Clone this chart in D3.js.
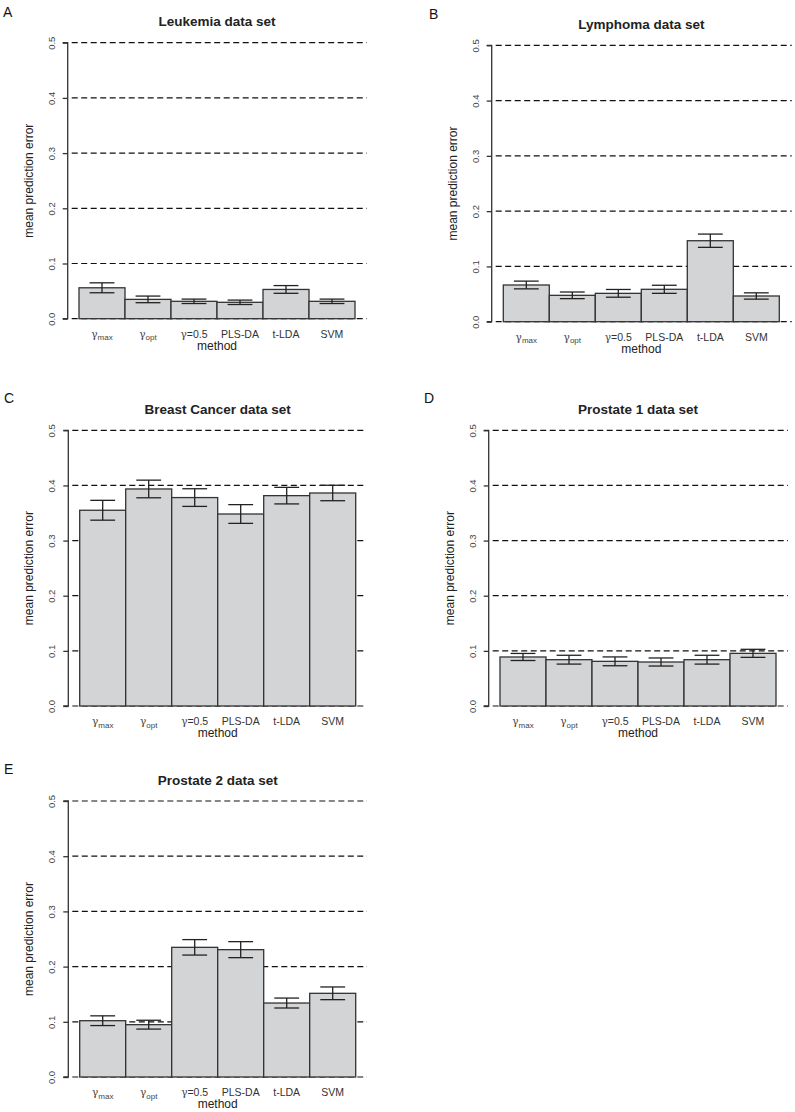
<!DOCTYPE html>
<html>
<head>
<meta charset="utf-8">
<script src="https://cdn.jsdelivr.net/npm/d3@7"></script>
<style>
html,body{margin:0;padding:0;background:#fff;}
svg{display:block;font-family:"Liberation Sans",Arial,sans-serif;}
</style>
</head>
<body>
<svg id="chart" width="795" height="1112"></svg>
<script>
// ---- data ----
const methodBase = ["γ", "γ", "γ", "PLS-DA", "t-LDA", "SVM"];
const methodSub  = ["max", "opt", "", "", "", ""];
const methodRest = ["", "", "=0.5", "", "", ""];
const methods = ["gmax", "gopt", "g05", "PLS-DA", "t-LDA", "SVM"];
const yTicks = [0.0, 0.1, 0.2, 0.3, 0.4, 0.5];
const yTickLabels = ["0.0", "0.1", "0.2", "0.3", "0.4", "0.5"];

const panelLetters = ["A", "B", "C", "D", "E"];
const panelTitles = ["Leukemia data set", "Lymphoma data set", "Breast Cancer data set", "Prostate 1 data set", "Prostate 2 data set"];

const leukemiaMean  = [0.056, 0.035, 0.0315, 0.0297, 0.053, 0.0315];
const leukemiaErr   = [0.009, 0.006, 0.004, 0.004, 0.007, 0.004];
const lymphomaMean  = [0.0664, 0.0477, 0.0513, 0.0586, 0.1465, 0.0465];
const lymphomaErr   = [0.007, 0.006, 0.007, 0.0073, 0.012, 0.0057];
const breastMean    = [0.355, 0.3936, 0.378, 0.3482, 0.3815, 0.3863];
const breastErr     = [0.018, 0.016, 0.016, 0.017, 0.015, 0.014];
const prostate1Mean = [0.0889, 0.084, 0.081, 0.0798, 0.084, 0.0955];
const prostate1Err  = [0.0064, 0.008, 0.008, 0.0073, 0.008, 0.0073];
const prostate2Mean = [0.102, 0.0948, 0.2349, 0.2307, 0.134, 0.1516];
const prostate2Err  = [0.0088, 0.008, 0.014, 0.0145, 0.009, 0.0115];

const panelMeans = [leukemiaMean, lymphomaMean, breastMean, prostate1Mean, prostate2Mean];
const panelErrs  = [leukemiaErr, lymphomaErr, breastErr, prostate1Err, prostate2Err];

// ---- layout (positions only) ----
const layouts = [
  {axisX: 67.7, barL: 79.0, barR: 355.0, top: 42.7, bottom: 318.7, gridR: 366.7, lx: 3, ly: 16.5},
  {axisX: 491.7, barL: 503.3, barR: 779.3, top: 45.3, bottom: 321.7, gridR: 791.7, lx: 429, ly: 18.5},
  {axisX: 68.3, barL: 79.7, barR: 355.7, top: 430.3, bottom: 706.0, gridR: 366.7, lx: 4, ly: 403},
  {axisX: 488.7, barL: 500.0, barR: 776.0, top: 430.3, bottom: 706.0, gridR: 788.0, lx: 424, ly: 403},
  {axisX: 68.3, barL: 79.7, barR: 355.7, top: 801.0, bottom: 1077.0, gridR: 367.0, lx: 4, ly: 774}
];

const svg = d3.select("#chart");
const dark = "#333";

layouts.forEach((L, i) => {
  const g = svg.append("g");
  const x = d3.scaleBand().domain(methods).range([L.barL, L.barR]).padding(0);
  const y = d3.scaleLinear().domain([0, 0.5]).range([L.bottom, L.top]);
  const means = panelMeans[i], errs = panelErrs[i];

  // panel letter
  g.append("text").attr("x", L.lx).attr("y", L.ly)
    .attr("font-size", 14).attr("fill", "#111").text(panelLetters[i]);

  // title
  g.append("text").attr("x", (L.barL + L.barR) / 2).attr("y", L.top - 16.5)
    .attr("text-anchor", "middle").attr("font-size", 13.5).attr("font-weight", "bold")
    .attr("fill", "#222").text(panelTitles[i]);

  // dashed gridlines
  g.selectAll(".grid").data(yTicks).enter().append("line")
    .attr("x1", L.axisX + 4).attr("x2", L.gridR)
    .attr("y1", d => y(d)).attr("y2", d => y(d))
    .attr("stroke", "#111").attr("stroke-width", 1.2).attr("stroke-dasharray", "6,3.5");

  // y axis
  const yAxis = d3.axisLeft(y).tickValues(yTicks).tickSize(5).tickFormat((d, k) => yTickLabels[k]);
  const ga = g.append("g").attr("transform", `translate(${L.axisX},0)`).call(yAxis);
  ga.select(".domain").attr("d", `M-5,${y(0.5)}H0V${y(0)}H-5`).attr("stroke", dark).attr("stroke-width", 1.3);
  ga.selectAll(".tick line").attr("stroke", dark).attr("stroke-width", 1.3);
  ga.selectAll(".tick text")
    .attr("transform", "rotate(-90)")
    .attr("x", 0).attr("y", -13).attr("dy", null)
    .attr("text-anchor", "middle")
    .attr("font-family", "Liberation Sans, Arial, sans-serif")
    .attr("font-size", 9.5).attr("fill", "#444");

  // y label
  g.append("text")
    .attr("transform", `translate(${L.axisX - 35},${(L.top + L.bottom) / 2}) rotate(-90)`)
    .attr("text-anchor", "middle").attr("font-size", 12).attr("fill", "#222")
    .text("mean prediction error");

  // bars
  g.selectAll(".bar").data(means).enter().append("rect")
    .attr("x", (d, k) => x(methods[k]))
    .attr("width", x.bandwidth())
    .attr("y", d => y(d))
    .attr("height", d => y(0) - y(d))
    .attr("fill", "#d3d4d6").attr("stroke", dark).attr("stroke-width", 1.3);

  // error bars
  const cap = x.bandwidth() * 0.27;
  const eb = g.selectAll(".eb").data(means).enter().append("g");
  eb.append("line")
    .attr("x1", (d, k) => x(methods[k]) + x.bandwidth() / 2)
    .attr("x2", (d, k) => x(methods[k]) + x.bandwidth() / 2)
    .attr("y1", (d, k) => y(d + errs[k])).attr("y2", (d, k) => y(d - errs[k]));
  eb.append("line")
    .attr("x1", (d, k) => x(methods[k]) + x.bandwidth() / 2 - cap)
    .attr("x2", (d, k) => x(methods[k]) + x.bandwidth() / 2 + cap)
    .attr("y1", (d, k) => y(d + errs[k])).attr("y2", (d, k) => y(d + errs[k]));
  eb.append("line")
    .attr("x1", (d, k) => x(methods[k]) + x.bandwidth() / 2 - cap)
    .attr("x2", (d, k) => x(methods[k]) + x.bandwidth() / 2 + cap)
    .attr("y1", (d, k) => y(d - errs[k])).attr("y2", (d, k) => y(d - errs[k]));
  eb.selectAll("line").attr("stroke", "#222").attr("stroke-width", 1.3);

  // x tick labels
  methods.forEach((m, k) => {
    const t = g.append("text")
      .attr("x", x(m) + x.bandwidth() / 2).attr("y", L.bottom + 19)
      .attr("text-anchor", "middle").attr("font-size", 10.5).attr("fill", "#333");
    if (methodBase[k] === "γ") {
      t.append("tspan").attr("font-family", "DejaVu Serif, Liberation Serif, serif")
        .attr("font-size", 10.5).attr("fill", "#444").text("γ");
      if (methodSub[k]) {
        t.append("tspan").attr("font-size", 8).attr("fill", "#444").attr("dy", 2.5).text(methodSub[k]);
      }
      if (methodRest[k]) t.append("tspan").attr("fill", "#333").text(methodRest[k]);
    } else {
      t.text(methodBase[k]);
    }
  });

  // x axis label
  g.append("text").attr("x", (L.barL + L.barR) / 2).attr("y", L.bottom + 31)
    .attr("text-anchor", "middle").attr("font-size", 12).attr("fill", "#222").text("method");
});
</script>
</body>
</html>
